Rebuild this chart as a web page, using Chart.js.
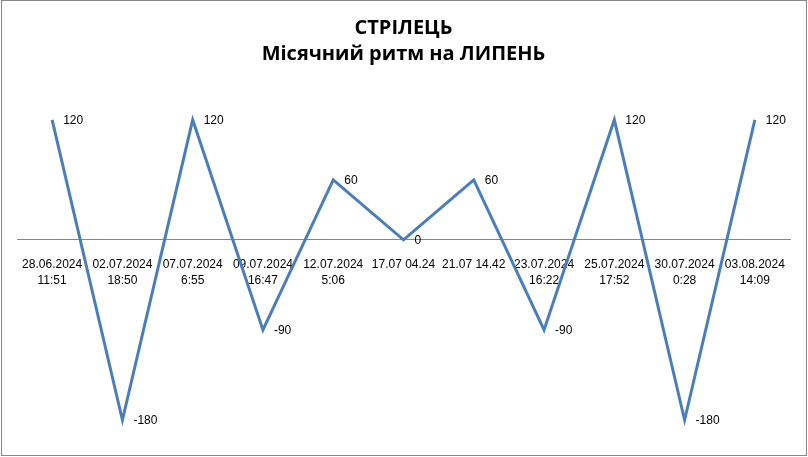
<!DOCTYPE html>
<html>
<head>
<meta charset="utf-8">
<script src="https://cdn.jsdelivr.net/npm/chart.js@4"></script>
<style>
html,body{margin:0;padding:0;background:#fff;}
#wrap{width:808px;height:457px;}
</style>
</head>
<body>
<div id="wrap"><canvas id="c" width="808" height="457"></canvas></div>
<script>
const categories = [
  ['28.06.2024','11:51'],
  ['02.07.2024','18:50'],
  ['07.07.2024','6:55'],
  ['09.07.2024','16:47'],
  ['12.07.2024','5:06'],
  '17.07 04.24',
  '21.07 14.42',
  ['23.07.2024','16:22'],
  ['25.07.2024','17:52'],
  ['30.07.2024','0:28'],
  ['03.08.2024','14:09']
];
const values = [120, -180, 120, -90, 60, 0, 60, -90, 120, -180, 120];
const titleLines = ['СТРІЛЕЦЬ', 'Місячний ритм на ЛИПЕНЬ'];

const FONT = "'Liberation Sans', Arial, sans-serif";
const TITLE_FONT = "'Open Sans', 'Liberation Sans', sans-serif";

const bgBorder = {
  id: 'bgBorder',
  beforeDraw(chart) {
    const ctx = chart.ctx;
    ctx.save();
    ctx.fillStyle = '#ffffff';
    ctx.fillRect(0, 0, chart.width, chart.height);
    ctx.strokeStyle = '#868686';
    ctx.lineWidth = 1;
    ctx.strokeRect(1.5, 0.5, chart.width - 3, chart.height - 2);
    ctx.restore();
  }
};

const dataLabels = {
  id: 'dataLabels',
  afterDatasetsDraw(chart) {
    const ctx = chart.ctx;
    const meta = chart.getDatasetMeta(0);
    ctx.save();
    ctx.font = '12px ' + FONT;
    ctx.fillStyle = '#000000';
    ctx.textAlign = 'left';
    ctx.textBaseline = 'middle';
    meta.data.forEach((pt, i) => {
      ctx.fillText(String(values[i]), pt.x + 11, pt.y + 1);
    });
    ctx.restore();
  }
};

new Chart(document.getElementById('c'), {
  type: 'line',
  data: {
    labels: categories,
    datasets: [{
      data: values,
      borderColor: '#4A7EBB',
      borderWidth: 3,
      pointRadius: 0,
      tension: 0,
      fill: false
    }]
  },
  options: {
    responsive: false,
    animation: false,
    layout: { padding: { left: 17, right: 18, top: 0, bottom: 7 } },
    plugins: {
      legend: { display: false },
      tooltip: { enabled: false },
      title: {
        display: true,
        text: titleLines,
        color: '#000000',
        font: { family: TITLE_FONT, size: 20, weight: 'bold', lineHeight: 1.32 },
        padding: { top: 15, bottom: 22 }
      }
    },
    scales: {
      x: {
        type: 'category',
        position: { y: 0 },
        offset: true,
        grid: { display: false },
        border: { display: true, color: '#868686', width: 1 },
        ticks: {
          autoSkip: false,
          maxRotation: 0,
          minRotation: 0,
          padding: 9,
          color: '#000000',
          font: { family: FONT, size: 12, lineHeight: 1.35 }
        }
      },
      y: {
        display: false,
        min: -210,
        max: 150
      }
    }
  },
  plugins: [bgBorder, dataLabels]
});
</script>
</body>
</html>
